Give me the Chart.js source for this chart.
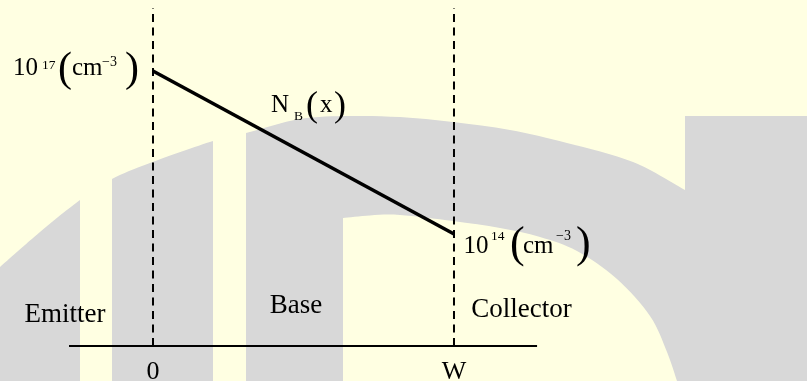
<!DOCTYPE html>
<html>
<head>
<meta charset="utf-8">
<script src="https://cdn.jsdelivr.net/npm/chart.js@4.4.0/dist/chart.umd.min.js"></script>
<style>
  html, body { margin: 0; padding: 0; background: #FFFFE2; }
  #wrap { width: 807px; height: 381px; position: relative; }
</style>
</head>
<body>
<div id="wrap"><canvas id="c" width="807" height="381"></canvas></div>
<script>
// ---------------- data ----------------
const positions = [0, 1];                 // x = 0 and x = W
const tickLabels = ['0', 'W'];
const dopingValues = [1e17, 1e14];        // N_B at x = 0 and x = W (cm^-3)
const regionNames = ['Emitter', 'Base', 'Collector'];
const regionCenters = [-0.292, 0.475, 1.224]; // x (in units of W) of each region label
const axisExtent = [-0.279, 1.276];       // drawn x-axis line, in units of W
const axisLevel = Math.pow(10, 11.94);    // y value where x-axis sits
const dashTop = Math.pow(10, 18.16);      // top of the dashed boundaries

// ---------------- styling helpers ----------------
const SERIF = '"Liberation Serif", "Times New Roman", serif';
const YELLOW = '#FFFFE2';
const GREY = '#D8D8D8';

function catmull(ctx, pts, moveFirst) {
  if (moveFirst) ctx.moveTo(pts[0][0], pts[0][1]); else ctx.lineTo(pts[0][0], pts[0][1]);
  for (let i = 0; i < pts.length - 1; i++) {
    const p0 = pts[Math.max(0, i - 1)], p1 = pts[i], p2 = pts[i + 1], p3 = pts[Math.min(pts.length - 1, i + 2)];
    const c1x = p1[0] + (p2[0] - p0[0]) / 6, c1y = p1[1] + (p2[1] - p0[1]) / 6;
    const c2x = p2[0] - (p3[0] - p1[0]) / 6, c2y = p2[1] - (p3[1] - p1[1]) / 6;
    ctx.bezierCurveTo(c1x, c1y, c2x, c2y, p2[0], p2[1]);
  }
}

const watermark = {
  id: 'watermark',
  beforeDraw(chart) {
    const ctx = chart.ctx, W = chart.width, H = chart.height;
    ctx.save();
    ctx.fillStyle = YELLOW;
    ctx.fillRect(0, 0, W, H);
    ctx.fillStyle = GREY;
    // outer arc band
    const outer = [[0, 267], [40, 232], [80, 200], [112, 179], [150, 163], [213, 141], [246, 133],
                   [300, 119], [350, 116], [400, 117], [453, 122], [510, 130], [567, 143], [633, 162], [685, 190]];
    ctx.beginPath();
    catmull(ctx, outer, true);
    ctx.lineTo(685, H); ctx.lineTo(0, H); ctx.closePath();
    ctx.fill();
    // right block
    ctx.fillRect(685, 116, W - 685, H - 116);
    // yellow stripes
    ctx.fillStyle = YELLOW;
    ctx.fillRect(80, 0, 32, H);
    ctx.fillRect(213, 0, 33, H);
    // inner hole
    const inner = [[343, 218], [370, 215.5], [400, 215], [453, 221], [500, 228], [540, 237], [577, 251],
                   [617, 279], [650, 316], [667, 352], [677, 381]];
    ctx.beginPath();
    ctx.moveTo(343, H);
    catmull(ctx, inner, false);
    ctx.lineTo(343, H);
    ctx.closePath();
    ctx.fill();
    ctx.restore();
  }
};

function drawRuns(ctx, ax, ay, runs) {
  ctx.textAlign = 'left';
  ctx.textBaseline = 'alphabetic';
  runs.forEach(r => {
    ctx.font = r[3] + 'px ' + SERIF;
    ctx.fillText(r[0], ax + r[1], ay + r[2]);
  });
}

const labels = {
  id: 'labels',
  afterDatasetsDraw(chart) {
    const ctx = chart.ctx;
    const xs = chart.scales.x, ys = chart.scales.y;
    ctx.save();
    ctx.fillStyle = '#000';
    // 10^17 (cm^-3)
    const a1x = xs.getPixelForValue(positions[0]), a1y = ys.getPixelForValue(dopingValues[0]);
    drawRuns(ctx, a1x, a1y, [
      ['10', -140, 4, 25], ['17', -111, -2, 13.5], ['(', -95, 10.5, 42],
      ['cm', -81, 4, 25], ['\u22123', -51, -5, 14], [')', -28, 10.5, 42]
    ]);
    // 10^14 (cm^-3)
    const a2x = xs.getPixelForValue(positions[1]), a2y = ys.getPixelForValue(dopingValues[1]);
    drawRuns(ctx, a2x, a2y, [
      ['10', 9.5, 19, 25], ['14', 37, 6, 13.5], ['(', 56, 23, 44],
      ['cm', 69, 19, 25], ['\u22123', 102, 6, 14], [')', 122, 23, 44]
    ]);
    // N_B(x)
    const mx = (a1x + a2x) / 2, my = (a1y + a2y) / 2;
    drawRuns(ctx, mx, my, [
      ['N', -32.5, -40.5, 25], ['B', -9.5, -32.5, 13.5], ['(', 2.5, -36, 36],
      ['x', 16.5, -40.5, 25], [')', 30.5, -36, 36]
    ]);
    // region names
    const axY = ys.getPixelForValue(axisLevel);
    ctx.font = '27px ' + SERIF;
    ctx.textAlign = 'center';
    const regionBase = [-24, -33, -29];
    regionNames.forEach((n, i) => {
      ctx.fillText(n, xs.getPixelForValue(regionCenters[i]), axY + regionBase[i]);
    });
    // tick labels
    ctx.font = '26px ' + SERIF;
    positions.forEach((p, i) => {
      ctx.fillText(tickLabels[i], xs.getPixelForValue(p), axY + 33);
    });
    ctx.restore();
  }
};

const datasets = [
  { // N_B(x)
    data: positions.map((p, i) => ({ x: p, y: dopingValues[i] })),
    borderColor: '#000', borderWidth: 3.6, pointRadius: 0, fill: false, tension: 0
  },
  { // x-axis line
    data: [{ x: axisExtent[0], y: axisLevel }, { x: axisExtent[1], y: axisLevel }],
    borderColor: '#000', borderWidth: 2, pointRadius: 0, fill: false
  }
];
positions.forEach(p => {
  datasets.push({
    data: [{ x: p, y: axisLevel }, { x: p, y: dashTop }],
    borderColor: '#000', borderWidth: 2, borderDash: [8, 5.5], pointRadius: 0, fill: false
  });
});

new Chart(document.getElementById('c'), {
  type: 'scatter',
  data: { datasets: datasets.map(d => Object.assign({ showLine: true }, d)) },
  options: {
    responsive: false,
    animation: false,
    devicePixelRatio: 1,
    layout: { padding: 0 },
    plugins: { legend: { display: false }, tooltip: { enabled: false } },
    scales: {
      x: { type: 'linear', display: false, min: -0.5083, max: 2.1728 },
      y: { type: 'logarithmic', display: false, bounds: 'data',
           min: Math.pow(10, 11.2945), max: Math.pow(10, 18.3067) }
    }
  },
  plugins: [watermark, labels]
});
</script>
</body>
</html>
